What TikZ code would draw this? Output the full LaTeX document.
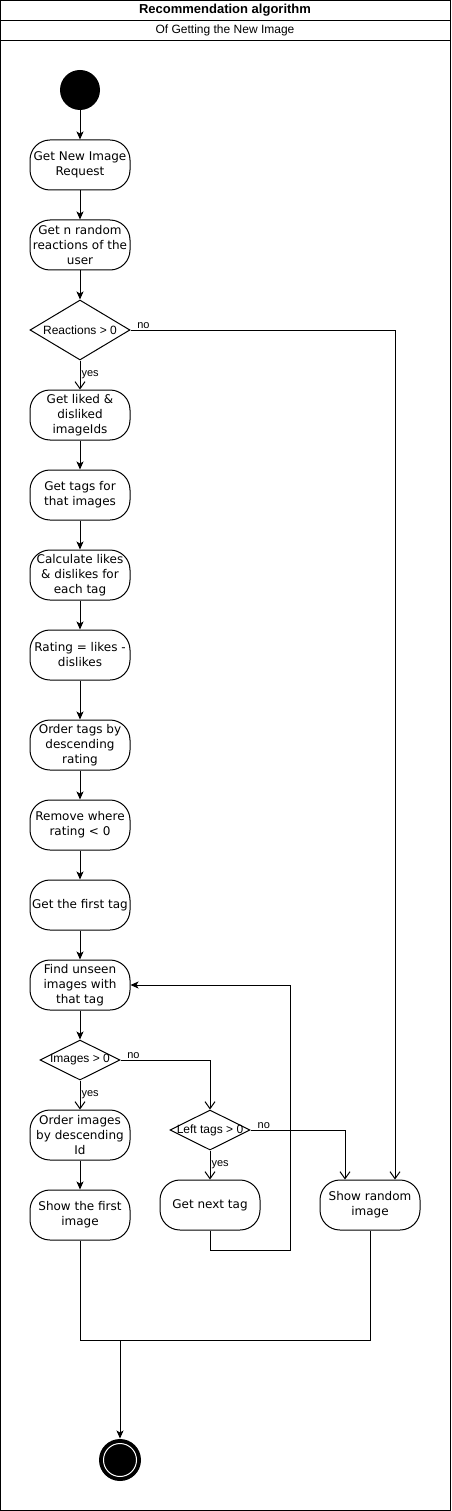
\documentclass[tikz,border=0pt]{standalone}
\usepackage{fontspec}
\setmainfont{Liberation Sans}
\newfontfamily\boxfont{DejaVu Sans}
\usetikzlibrary{arrows.meta}
\usetikzlibrary{shapes.geometric}

\begin{document}
\begin{tikzpicture}[x=1pt, y=-1pt, line width=1pt,
    activity/.style={draw, rounded corners=20pt, minimum width=100pt, minimum height=50pt,
        inner sep=0pt, align=center, font=\boxfont\fontsize{12}{15}\selectfont},
    decision/.style={draw, diamond, aspect=2, inner sep=0pt,
        label={[font=\fontsize{12}{14}\selectfont]center:#1}},
    flow/.style={-{Stealth[length=8pt, width=7pt, inset=2pt]}},
    branch/.style={-{Straight Barb[length=7pt, width=10pt]}},
    guard/.style={font=\fontsize{11}{13}\selectfont, inner sep=1pt}]
        \useasboundingbox (0,0) rectangle (451,1511);
        \draw (0.5,0.5) rectangle (450.5,1510.5);
        \draw (0.5,20.5) -- (450.5,20.5);
        \draw (0.5,40.5) -- (450.5,40.5);
        \node (title) at (225,10) [font=\bfseries\fontsize{13}{15}\selectfont] {Recommendation algorithm};
        \node (subtitle) at (225,30) [font=\fontsize{12}{14}\selectfont] {Of Getting the New Image};

        \node (start) at (80,90) [circle, fill, minimum size=40pt] {};
        \node (request) at (80,165) [activity] {Get New Image\\Request};
        \node (reactions) at (80,245) [activity] {Get n random\\reactions of the\\user};
        \node (hasreact) at (80,330) [decision={Reactions > 0}, minimum width=100pt, minimum height=60pt] {};
        \node (liked) at (80,415) [activity] {Get liked \&\\disliked\\imageIds};
        \node (tags) at (80,495) [activity] {Get tags for\\that images};
        \node (calc) at (80,575) [activity] {Calculate likes\\\& dislikes for\\each tag};
        \node (rating) at (80,655) [activity] {Rating = likes -\\dislikes};
        \node (order) at (80,745) [activity] {Order tags by\\descending\\rating};
        \node (remove) at (80,825) [activity] {Remove where\\rating < 0};
        \node (firsttag) at (80,905) [activity] {Get the first tag};
        \node (find) at (80,985) [activity] {Find unseen\\images with\\that tag};
        \node (hasimg) at (80,1060) [decision={Images > 0}, minimum width=80pt, minimum height=40pt] {};
        \node (orderimg) at (80,1135) [activity] {Order images\\by descending\\Id};
        \node (showfirst) at (80,1215) [activity] {Show the first\\image};
        \node (lefttags) at (210,1130) [decision={Left tags > 0}, minimum width=80pt, minimum height=40pt] {};
        \node (nexttag) at (210,1205) [activity] {Get next tag};
        \node (showrand) at (370,1205) [activity] {Show random\\image};
        \node (stop) at (120,1460) [circle, fill, minimum size=42pt] {};
        \draw [white] (stop.center) circle (16.5);

        \coordinate (loop) at (290,1250);
        \coordinate (merge) at (120,1340);

        \draw [flow] (start) -- (request);
        \draw [flow] (request) -- (reactions);
        \draw [flow] (reactions) -- (hasreact);
        \draw [branch] (hasreact) -- node [guard, right] {yes} (liked);
        \draw [branch] (hasreact.east) -| node [guard, above right, pos=0.01] {no} ([xshift=25pt]showrand.north);
        \draw [flow] (liked) -- (tags);
        \draw [flow] (tags) -- (calc);
        \draw [flow] (calc) -- (rating);
        \draw [flow] (rating) -- (order);
        \draw [flow] (order) -- (remove);
        \draw [flow] (remove) -- (firsttag);
        \draw [flow] (firsttag) -- (find);
        \draw [flow] (find) -- (hasimg);
        \draw [branch] (hasimg) -- node [guard, right] {yes} (orderimg);
        \draw [branch] (hasimg.east) -| node [guard, above right, pos=0.03] {no} (lefttags.north);
        \draw [branch] (lefttags) -- node [guard, right] {yes} (nexttag);
        \draw [branch] (lefttags.east) -| node [guard, above right, pos=0.03] {no} ([xshift=-25pt]showrand.north);
        \draw [flow] (nexttag.south) |- (loop) |- (find.east);
        \draw [flow] (orderimg) -- (showfirst);
        \draw (showfirst.south) |- (merge) -| (showrand.south);
        \draw [flow] (merge) -- (stop);
    \end{tikzpicture}
\end{document}
